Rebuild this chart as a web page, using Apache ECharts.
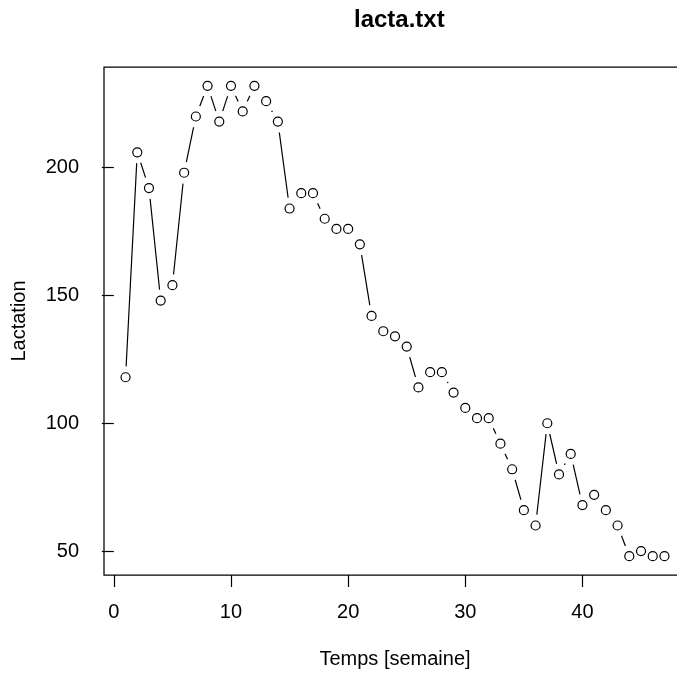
<!DOCTYPE html>
<html>
<head>
<meta charset="utf-8">
<script src="https://cdn.jsdelivr.net/npm/echarts@6/dist/echarts.min.js"></script>
<style>
html,body{margin:0;padding:0;background:#fff;overflow:hidden;}
#chart{width:677px;height:674px;}
</style>
</head>
<body>
<div id="chart"></div>
<script>
var chartTitle = 'lacta.txt';
var xName = 'Temps [semaine]';
var yName = 'Lactation';
var weeks = [1,2,3,4,5,6,7,8,9,10,11,12,13,14,15,16,17,18,19,20,21,22,23,24,25,26,27,28,29,30,31,32,33,34,35,36,37,38,39,40,41,42,43,44,45,46,47];
var lactation = [118,206,192,148,154,198,220,232,218,232,222,232,226,218,184,190,190,180,176,176,170,142,136,134,130,114,120,120,112,106,102,102,92,82,66,60,100,80,88,68,72,66,60,48,50,48,48];
var xTicks = [0,10,20,30,40];
var yTicks = [50,100,150,200];

var pts = weeks.map(function(w,i){return [w, lactation[i]];});
var font = "'Liberation Sans', Arial, sans-serif";
var chart = echarts.init(document.getElementById('chart'), null, {renderer:'canvas'});
chart.setOption({
  backgroundColor:'#ffffff',
  animation:false,
  title:{
    text:chartTitle, left:349, top:3,
    textStyle:{fontFamily:font, fontSize:24, fontWeight:'bold', color:'#000'}
  },
  grid:{
    left:104, top:67, width:582, height:508,
    containLabel:false, outerBoundsMode:'none',
    show:true, borderColor:'#000', borderWidth:1.25, backgroundColor:'transparent'
  },
  xAxis:{
    type:'value', min:-0.84, max:48.84,
    name:xName, nameLocation:'middle', nameGap:74,
    nameTextStyle:{fontFamily:font, fontSize:20, color:'#000'},
    axisLine:{show:false},
    axisTick:{show:true, inside:false, length:12, customValues:xTicks, lineStyle:{color:'#000', width:1.2}},
    axisLabel:{show:true, margin:27, customValues:xTicks, fontFamily:font, fontSize:20, color:'#000'},
    splitLine:{show:false}
  },
  yAxis:{
    type:'value', min:40.64, max:239.36,
    name:yName, nameLocation:'middle', nameGap:75, nameRotate:90,
    nameTextStyle:{fontFamily:font, fontSize:20, color:'#000'},
    axisLine:{show:false},
    axisTick:{show:true, inside:false, length:12, customValues:yTicks, lineStyle:{color:'#000', width:1.2}},
    axisLabel:{show:true, margin:25, customValues:yTicks, fontFamily:font, fontSize:20, color:'#000'},
    splitLine:{show:false}
  },
  series:[
    {type:'line', data:pts, showSymbol:false, symbol:'none', z:2,
     lineStyle:{color:'#000', width:1.2}, silent:true},
    {type:'scatter', data:pts, symbol:'circle', symbolSize:22, z:3,
     itemStyle:{color:'#fff', opacity:1}, silent:true},
    {type:'scatter', data:pts, symbol:'circle', symbolSize:9, z:4,
     itemStyle:{color:'#fff', borderColor:'#000', borderWidth:1.2, opacity:1}, silent:true}
  ]
});
</script>
</body>
</html>
